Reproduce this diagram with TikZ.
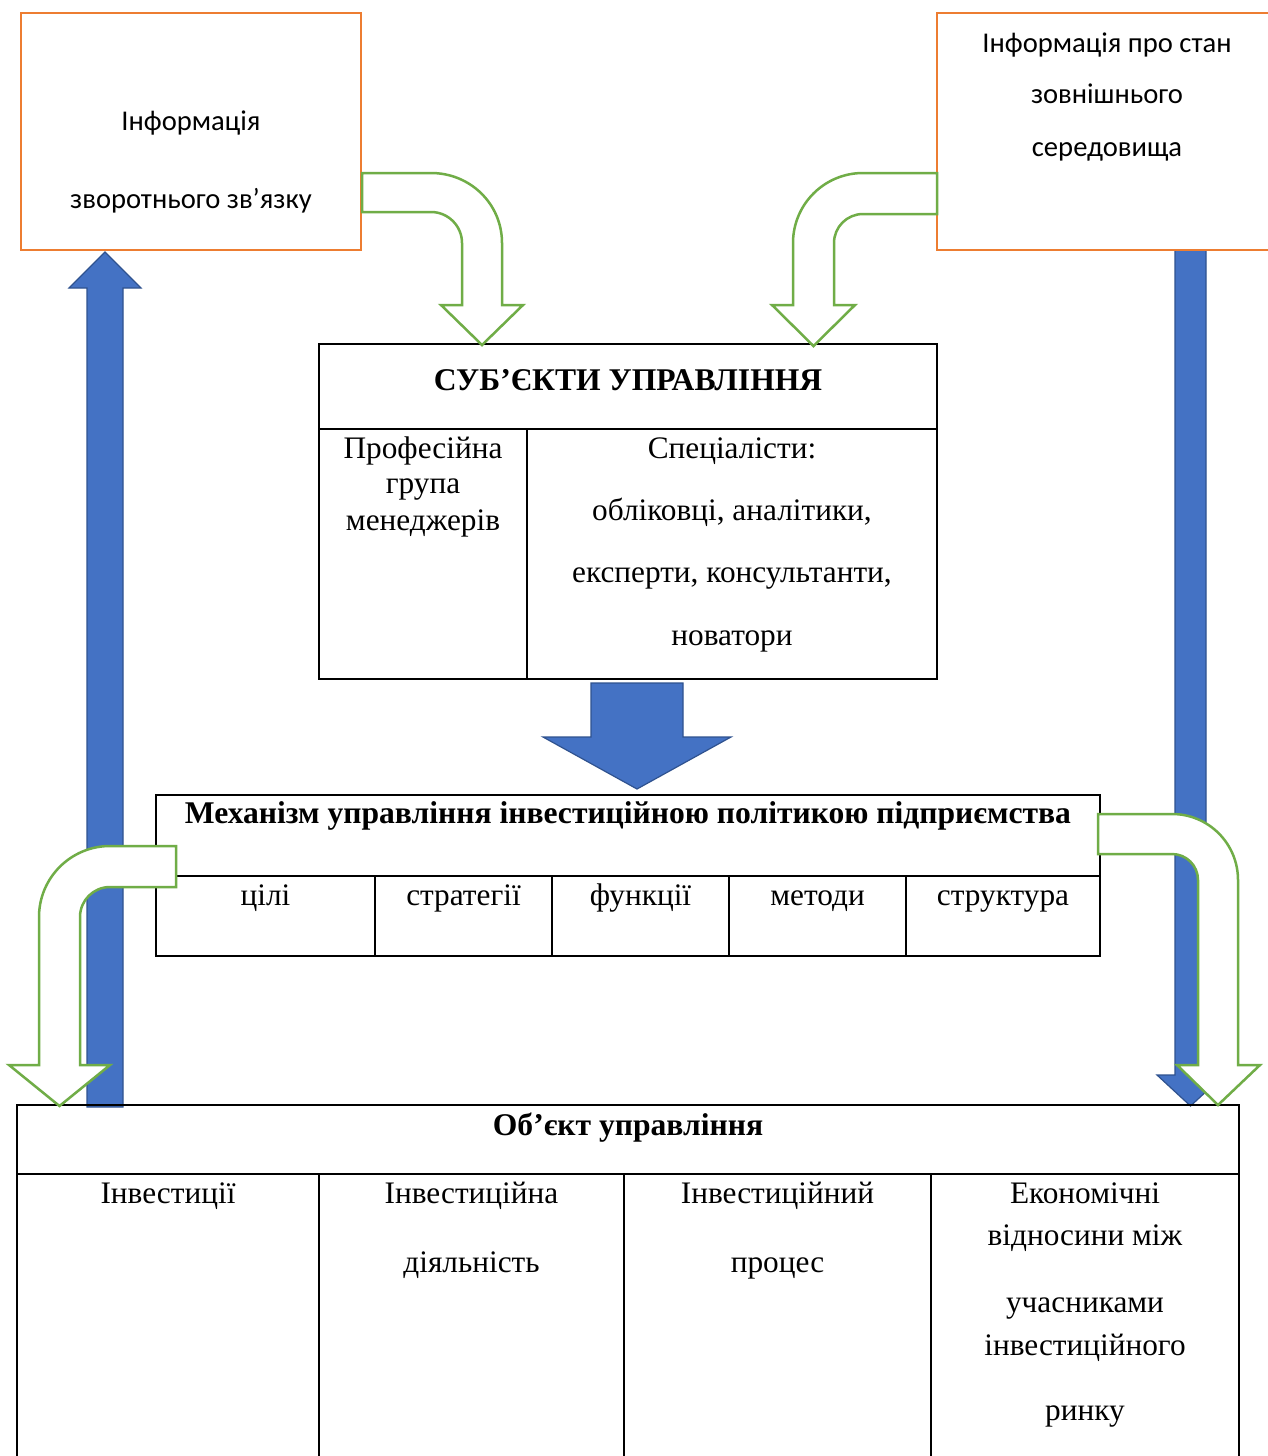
\documentclass[tikz,border=0pt]{standalone}
\usepackage{fontspec}
\setmainfont{Liberation Serif}
\newfontfamily\calibri{Carlito}
\definecolor{blu}{HTML}{4472C4}
\definecolor{bluedge}{HTML}{2F528F}
\definecolor{grn}{HTML}{70AD47}
\definecolor{org}{HTML}{ED7D31}
\tikzset{
  bluearrow/.style={fill=blu, draw=bluedge, line width=1.2pt, line join=miter},
  garrow/.style={draw=grn, fill=white, line width=2.5pt, line join=miter},
  obox/.style={draw=org, fill=white, line width=2.5pt},
  tbl/.style={draw=black, line width=2pt},
  txt/.style={anchor=base, inner sep=0pt, font=\fontsize{31.3}{36}\selectfont},
  btxt/.style={anchor=base, inner sep=0pt, font=\fontsize{31.6}{36}\selectfont\bfseries},
  stxt/.style={anchor=base, inner sep=0pt, font=\calibri\fontsize{28.6}{32}\selectfont}
}
\begin{document}
\begin{tikzpicture}[x=1pt,y=-1pt]
\useasboundingbox (0,0) rectangle (1268,1456);
\clip (0,0) rectangle (1268,1456);
\fill[white] (0,0) rectangle (1268,1456);

% blue arrows
\draw[bluearrow] (87,1107) -- (87,288) -- (69,288) -- (105,252) -- (141,288) -- (123,288) -- (123,1107) -- cycle;
\draw[bluearrow] (1175,240) -- (1175,1075) -- (1157,1075) -- (1190.5,1106) -- (1224,1075) -- (1206,1075) -- (1206,240) -- cycle;
\draw[bluearrow] (591,683) -- (591,737) -- (543,737) -- (637,789) -- (731,737) -- (683,737) -- (683,683) -- cycle;

% orange boxes
\draw[obox] (21,13) rectangle (361,250);
\draw[obox] (937,13) rectangle (1290,250);

% subjects table
\draw[tbl] (319,344) rectangle (937,679);
\draw[tbl] (319,429) -- (937,429);
\draw[tbl] (527,429) -- (527,679);

% mechanism table
\draw[tbl] (156,795) rectangle (1100,956);
\draw[tbl] (156,876) -- (1100,876);
\foreach \xx in {375,552,729,906} \draw[tbl] (\xx,876) -- (\xx,956);

% object table
\draw[tbl] (17,1105) rectangle (1239,1500);
\draw[tbl] (17,1174) -- (1239,1174);
\foreach \xx in {319,624,931} \draw[tbl] (\xx,1174) -- (\xx,1500);

% green bent arrows
\draw[garrow] (362,173) -- (431,173) .. controls (470.2,173) and (502,203.8) .. (502,243) -- (502,305) -- (523,305) -- (482,345) -- (441,305) -- (462,305) -- (462,243) .. controls (462,225.9) and (448.1,212) .. (431,212) -- (362,212) -- cycle;
\draw[garrow] (937,173) -- (863,173) .. controls (824.3,173) and (793,204.3) .. (793,243) -- (793,305) -- (772,305) -- (813.5,346) -- (855,305) -- (834,305) -- (834,243) .. controls (834,227) and (847,214) .. (863,214) -- (937,214) -- cycle;
\draw[garrow] (176,846) -- (110,846) .. controls (70.8,846) and (39,877.8) .. (39,917) -- (39,1065) -- (9,1065) -- (59.5,1106) -- (110,1065) -- (80,1065) -- (80,917) .. controls (80,900.4) and (93.4,887) .. (110,887) -- (176,887) -- cycle;
\draw[garrow] (1098,814) -- (1172,814) .. controls (1208.5,814) and (1238,843.5) .. (1238,880) -- (1238,1065) -- (1260,1065) -- (1218,1105) -- (1177,1065) -- (1198,1065) -- (1198,880) .. controls (1198,865.6) and (1186.4,854) .. (1172,854) -- (1098,854) -- cycle;

% texts: info boxes
\node[stxt] (fb1) at (191,130) {Інформація};
\node[stxt] (fb2) at (191,208) {зворотнього зв’язку};
\node[stxt] (ex1) at (1107,52) {Інформація про стан};
\node[stxt] (ex2) at (1107,103) {зовнішнього};
\node[stxt] (ex3) at (1107,156) {середовища};

% subjects
\node[btxt] (subt) at (628,390) {СУБ’ЄКТИ УПРАВЛІННЯ};
\node[txt] (pg1) at (423,458) {Професійна};
\node[txt] (pg2) at (423,493) {група};
\node[txt] (pg3) at (423,530) {менеджерів};
\node[txt] (sp1) at (732,458) {Спеціалісти:};
\node[txt] (sp2) at (732,520) {обліковці, аналітики,};
\node[txt] (sp3) at (732,582) {експерти, консультанти,};
\node[txt] (sp4) at (732,645) {новатори};

% mechanism
\node[btxt] (mecht) at (628,823) {Механізм управління інвестиційною політикою підприємства};
\node[txt] (m1) at (265.5,905) {цілі};
\node[txt] (m2) at (463.5,905) {стратегії};
\node[txt] (m3) at (640.5,905) {функції};
\node[txt] (m4) at (817.5,905) {методи};
\node[txt] (m5) at (1003,905) {структура};

% object
\node[btxt] (objt) at (628,1135) {Об’єкт управління};
\node[txt] (o1) at (168,1203) {Інвестиції};
\node[txt] (o2a) at (471.5,1203) {Інвестиційна};
\node[txt] (o2b) at (471.5,1272) {діяльність};
\node[txt] (o3a) at (777.5,1203) {Інвестиційний};
\node[txt] (o3b) at (777.5,1272) {процес};
\node[txt] (o4a) at (1085,1203) {Економічні};
\node[txt] (o4b) at (1085,1245) {відносини між};
\node[txt] (o4c) at (1085,1312) {учасниками};
\node[txt] (o4d) at (1085,1355) {інвестиційного};
\node[txt] (o4e) at (1085,1420) {ринку};
\end{tikzpicture}
\end{document}
